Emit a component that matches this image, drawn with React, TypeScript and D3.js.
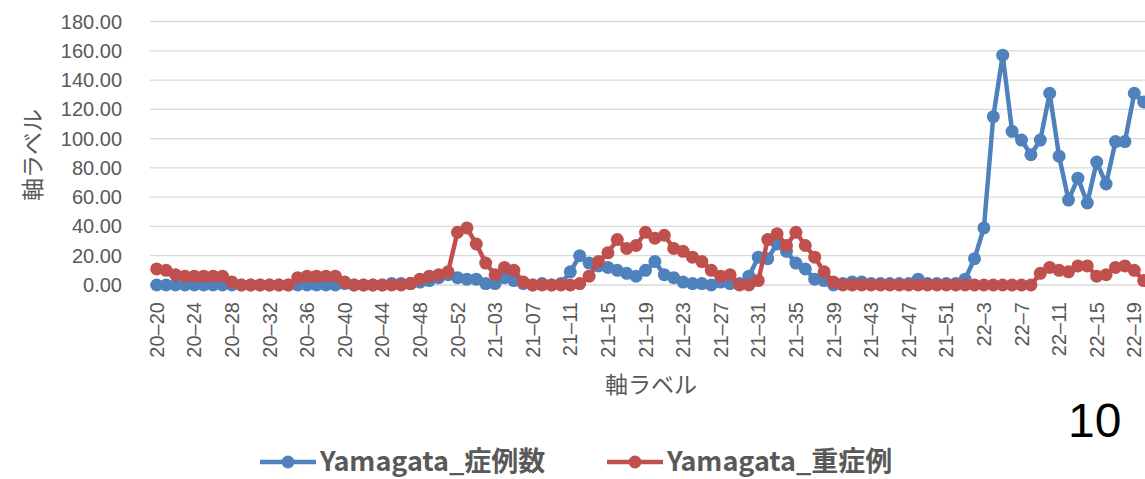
import * as d3 from 'd3';
import React, { useEffect, useRef } from 'react';

// week categories (year-week)
const weeks2020 = ['20–20', '20–21', '20–22', '20–23', '20–24', '20–25', '20–26', '20–27', '20–28', '20–29', '20–30', '20–31', '20–32', '20–33', '20–34', '20–35', '20–36', '20–37', '20–38', '20–39', '20–40', '20–41', '20–42', '20–43', '20–44', '20–45', '20–46', '20–47', '20–48', '20–49', '20–50', '20–51', '20–52', '20–53'];
const weeks2021 = ['21–01', '21–02', '21–03', '21–04', '21–05', '21–06', '21–07', '21–08', '21–09', '21–10', '21–11', '21–12', '21–13', '21–14', '21–15', '21–16', '21–17', '21–18', '21–19', '21–20', '21–21', '21–22', '21–23', '21–24', '21–25', '21–26', '21–27', '21–28', '21–29', '21–30', '21–31', '21–32', '21–33', '21–34', '21–35', '21–36', '21–37', '21–38', '21–39', '21–40', '21–41', '21–42', '21–43', '21–44', '21–45', '21–46', '21–47', '21–48', '21–49', '21–50', '21–51', '21–52'];
const weeks2022 = ['22–1', '22–2', '22–3', '22–4', '22–5', '22–6', '22–7', '22–8', '22–9', '22–10', '22–11', '22–12', '22–13', '22–14', '22–15', '22–16', '22–17', '22–18', '22–19', '22–20'];
const categories = [...weeks2020, ...weeks2021, ...weeks2022];

const cases = [
  0, 0, 0, 0, 0, 0, 0, 0, 0, 0, 0, 0, 0, 0, 0, 0, 0, 0, 0, 0, 1, 0, 0, 0, 0, 1, 1, 1, 2, 3, 5, 7, 5, 4,
  4, 1, 1, 5, 3, 1, 0, 1, 0, 1, 9, 20, 15, 13, 12, 10, 8, 6, 10, 16, 7, 5, 2, 1, 1, 0, 2, 1, 1, 6, 19, 18, 28, 23, 15, 11, 4, 3, 0, 1, 2, 2, 1, 1, 1, 1, 1, 4, 1, 1, 1, 1,
  4, 18, 39, 115, 157, 105, 99, 89, 99, 131, 88, 58, 73, 56, 84, 69, 98, 98, 131, 125
];
const severe = [
  11, 10, 7, 6, 6, 6, 6, 6, 2, 0, 0, 0, 0, 0, 0, 5, 6, 6, 6, 6, 2, 0, 0, 0, 0, 0, 0, 1, 4, 6, 7, 9, 36, 39,
  28, 15, 7, 12, 10, 2, 0, 0, 0, 0, 0, 1, 6, 16, 22, 31, 25, 27, 36, 32, 34, 25, 23, 19, 16, 10, 6, 7, 0, 0, 3, 31, 35, 27, 36, 27, 19, 9, 2, 0, 0, 0, 0, 0, 0, 0, 0, 0, 0, 0, 0, 0,
  0, 0, 0, 0, 0, 0, 0, 0, 8, 12, 10, 9, 13, 13, 6, 7, 12, 13, 10, 3
];
const yTicks = [0, 20, 40, 60, 80, 100, 120, 140, 160, 180];
const seriesNames = ['Yamagata_症例数', 'Yamagata_重症例'];
const seriesColors = ['#4f81bd', '#c0504d'];

export default function App() {
  const ref = useRef<SVGSVGElement>(null);

  useEffect(() => {
    const svg = d3.select(ref.current);
    svg.selectAll('*').remove();
    const W = 1145;
    const left = 152, right = 152 + 9.4 * categories.length;
    const top = 21.5, bottom = 285;

    const x = d3.scaleBand().domain(categories).range([left, right]);
    const y = d3.scaleLinear().domain([0, 180]).range([bottom, top]);
    const cx = (c: string) => (x(c) as number) + x.bandwidth() / 2;

    // gridlines
    svg.append('g')
      .selectAll('line')
      .data(yTicks)
      .enter()
      .append('line')
      .attr('x1', left - 2)
      .attr('x2', W)
      .attr('y1', (d) => y(d))
      .attr('y2', (d) => y(d))
      .attr('stroke', '#d9d9d9')
      .attr('stroke-width', 1.3);

    // y labels
    svg.append('g')
      .selectAll('text')
      .data(yTicks)
      .enter()
      .append('text')
      .attr('x', 122)
      .attr('y', (d) => y(d))
      .attr('dy', '0.35em')
      .attr('text-anchor', 'end')
      .attr('font-family', 'Liberation Sans, Arial, sans-serif')
      .attr('font-size', 20)
      .attr('fill', '#595959')
      .text((d) => d3.format('.2f')(d));

    // x labels every 4th week
    svg.append('g')
      .selectAll('text')
      .data(categories.filter((_, i) => i % 4 === 0))
      .enter()
      .append('text')
      .attr('transform', (d) => 'translate(' + cx(d) + ',302) rotate(-90)')
      .attr('dy', '0.35em')
      .attr('text-anchor', 'end')
      .attr('font-family', 'Liberation Sans, Arial, sans-serif')
      .attr('font-size', 20)
      .attr('fill', '#595959')
      .text((d) => d);

    // axis titles
    svg.append('text')
      .attr('transform', 'translate(33,155) rotate(-90)')
      .attr('dy', '0.35em')
      .attr('text-anchor', 'middle')
      .attr('font-family', 'Noto Sans CJK JP, sans-serif')
      .attr('font-size', 23)
      .attr('fill', '#595959')
      .text('軸ラベル');
    svg.append('text')
      .attr('x', 651)
      .attr('y', 385)
      .attr('dy', '0.35em')
      .attr('text-anchor', 'middle')
      .attr('font-family', 'Noto Sans CJK JP, sans-serif')
      .attr('font-size', 23)
      .attr('fill', '#595959')
      .text('軸ラベル');

    // series
    [cases, severe].forEach((vals, s) => {
      const line = d3.line<number>()
        .x((_, i) => cx(categories[i]))
        .y((d) => y(d));
      svg.append('path')
        .datum(vals)
        .attr('d', line)
        .attr('fill', 'none')
        .attr('stroke', seriesColors[s])
        .attr('stroke-width', 4.5)
        .attr('stroke-linejoin', 'round');
      svg.append('g')
        .selectAll('circle')
        .data(vals)
        .enter()
        .append('circle')
        .attr('cx', (_, i) => cx(categories[i]))
        .attr('cy', (d) => y(d))
        .attr('r', 6.5)
        .attr('fill', seriesColors[s]);
    });

    // page number
    svg.append('text')
      .attr('x', 1068)
      .attr('y', 437)
      .attr('font-family', 'Liberation Sans, Arial, sans-serif')
      .attr('font-size', 48)
      .attr('fill', '#000')
      .text('10');

    // legend
    const legendX = [260, 607];
    seriesNames.forEach((name, s) => {
      const g = svg.append('g').attr('transform', 'translate(' + legendX[s] + ',462)');
      g.append('line')
        .attr('x1', 0)
        .attr('x2', 56)
        .attr('stroke', seriesColors[s])
        .attr('stroke-width', 4.5);
      g.append('circle').attr('cx', 28).attr('r', 6.5).attr('fill', seriesColors[s]);
      g.append('text')
        .attr('x', 60)
        .attr('dy', '0.33em')
        .attr('font-family', 'Noto Sans CJK JP, sans-serif')
        .attr('font-weight', 'bold')
        .attr('font-size', 27)
        .attr('fill', '#595959')
        .text(name);
    });
  }, []);

  return (
    <svg
      ref={ref}
      width={1145}
      height={479}
      style={{ position: 'absolute', left: 0, top: 0, background: '#fff' }}
    />
  );
}
